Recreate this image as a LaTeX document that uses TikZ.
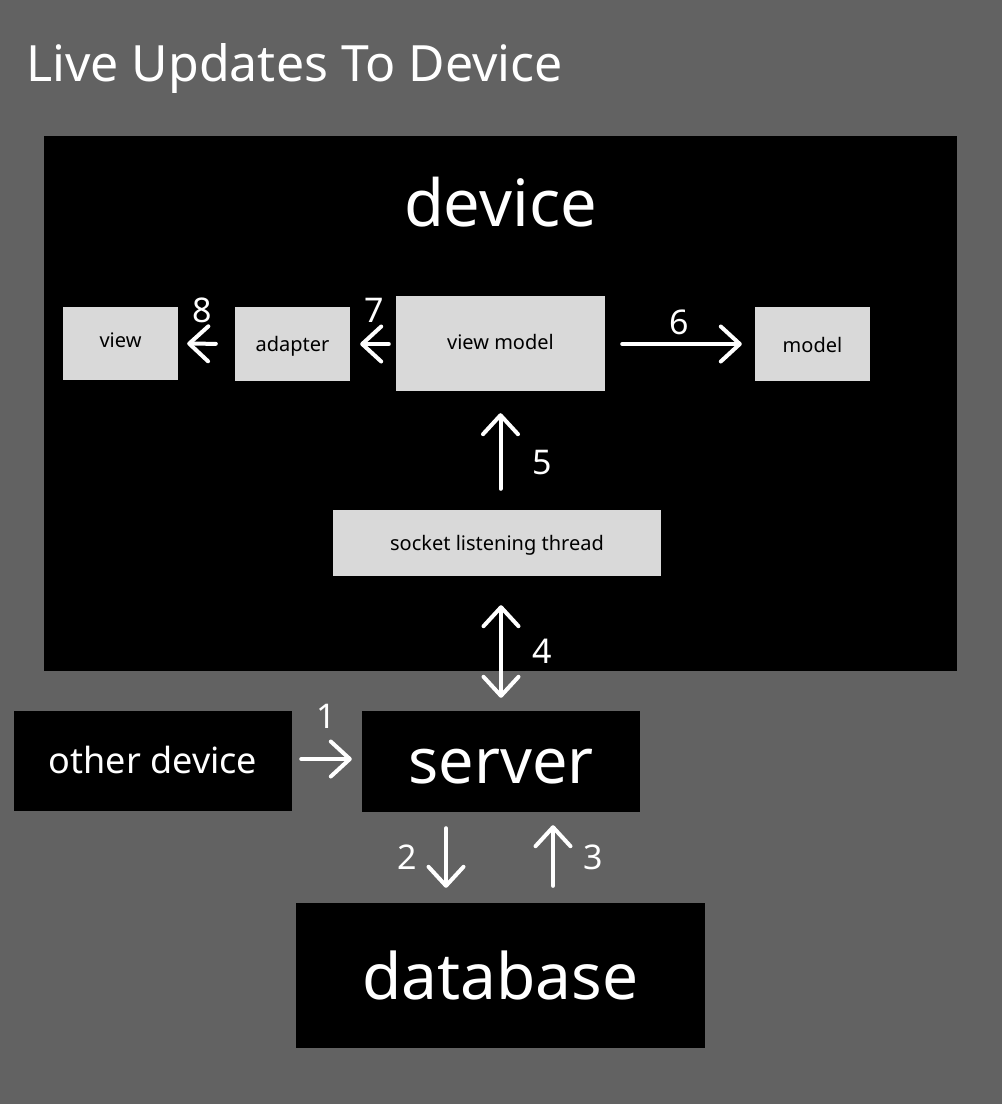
\documentclass[tikz,border=0pt]{standalone}
\usepackage{fontspec}
\setmainfont{Noto Sans}
\usetikzlibrary{arrows.meta,calc}
\definecolor{bgcol}{HTML}{626262}
\definecolor{lightbox}{HTML}{D9D9D9}
\tikzset{
  darkbox/.style={fill=black, draw=none, inner sep=0pt, text=white},
  lightnode/.style={fill=lightbox, draw=none, inner sep=0pt, text=black,
    font=\fontsize{20}{24}\selectfont, text height=15pt, text depth=1pt},
  numlbl/.style={text=white, inner sep=0pt, font=\fontsize{34}{40}\selectfont},
  barb/.tip={Straight Barb[length=19pt,width=35pt,line width=4pt,round]},
  arr/.style={draw=white, line width=4pt, line cap=round, -barb},
  darr/.style={draw=white, line width=4pt, line cap=round, barb-barb},
}
\begin{document}
\begin{tikzpicture}[x=1pt,y=-1pt]
\fill[bgcol] (0,0) rectangle (1002,1104);
\useasboundingbox (0,0) rectangle (1002,1104);

% title
\node[anchor=base west, text=white, inner sep=0pt, font=\fontsize{50}{60}\selectfont] (title) at (26,81) {Live Updates To Device};

% device container
\node[darkbox, minimum width=913pt, minimum height=535pt] (device) at (500.5,403.5) {};
\node[anchor=base, text=white, inner sep=0pt, font=\fontsize{65}{78}\selectfont] (devtitle) at (500.5,226) {device};

% inner nodes
\node[lightnode, minimum width=115pt, minimum height=73pt, text depth=8pt] (view) at (120.5,343.5) {view};
\node[lightnode, minimum width=115pt, minimum height=74pt] (adapter) at (292.5,344) {adapter};
\node[lightnode, minimum width=209pt, minimum height=95pt, text depth=4pt] (vm) at (500.5,343.5) {view model};
\node[lightnode, minimum width=115pt, minimum height=74pt, text height=16pt, text depth=0pt] (model) at (812.5,344) {model};
\node[lightnode, minimum width=328pt, minimum height=66pt] (socket) at (497,543) {socket listening thread};

% outer nodes
\node[darkbox, minimum width=278pt, minimum height=100pt, font=\fontsize{36}{42}\selectfont, text height=24pt, text depth=0pt] (other) at (153,761) {other device};
\node[darkbox, minimum width=278pt, minimum height=101pt, font=\fontsize{63}{74}\selectfont, text height=43pt, text depth=0pt] (server) at (501,761.5) {server};
\node[darkbox, minimum width=409pt, minimum height=145pt, font=\fontsize{64}{76}\selectfont, text height=47pt, text depth=0pt] (db) at (500.5,975.5) {database};

% arrows inside device
\draw[arr, shorten <=19pt, shorten >=9pt] (adapter.west) -- (view.east);
\node[numlbl] (l8) at (202,310) {8};
\draw[arr, shorten <=7pt, shorten >=10pt] (vm.west |- adapter.west) -- (adapter.east);
\node[numlbl] (l7) at (374,310) {7};
\draw[arr, shorten <=17pt, shorten >=13pt] (vm.east |- model.west) -- (model.west);
\node[numlbl] (l6) at (679,322) {6};
\draw[arr, shorten <=21pt, shorten >=22pt] (vm.south |- socket.north) -- (vm.south);
\node[numlbl] (l5) at (542,463) {5};

% socket <-> server
\draw[darr, shorten <=29pt, shorten >=13pt] (server.north |- socket.south) -- (server.north);
\node[numlbl] (l4) at (542,651) {4};

% other -> server
\draw[arr, shorten <=9pt, shorten >=10pt] (other.east |- 0,759) -- (server.west |- 0,759);
\node[numlbl] (l1) at (326,716) {1};

% server <-> database
\coordinate (s2) at ($(server.south)+(-55,0)$);
\coordinate (s3) at ($(server.south)+(52,0)$);
\draw[arr, shorten <=16pt, shorten >=15pt] (s2) -- (s2 |- db.north);
\node[numlbl] (l2) at (407,857) {2};
\draw[arr, shorten <=17pt, shorten >=13pt] (s3 |- db.north) -- (s3);
\node[numlbl] (l3) at (593,857) {3};
\end{tikzpicture}
\end{document}
